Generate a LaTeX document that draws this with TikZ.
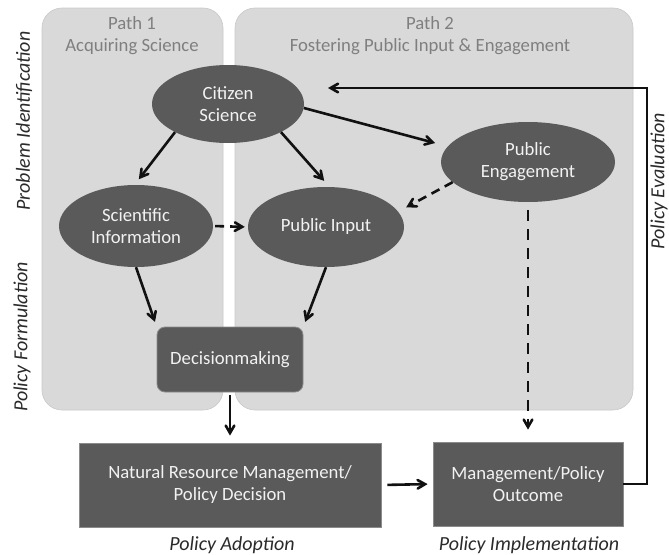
\documentclass[tikz,border=0pt]{standalone}
\usepackage{fontspec}
\setmainfont{Carlito}
\usepackage{tikz}
\usetikzlibrary{arrows,shapes.geometric}

\definecolor{panelgray}{HTML}{D9D9D9}
\definecolor{nodegray}{HTML}{5A5A5A}
\definecolor{headgray}{HTML}{7F7F7F}
\definecolor{labelgray}{HTML}{2A2A2A}
\definecolor{textwhite}{HTML}{F2F2F2}
\definecolor{arrowblack}{HTML}{111111}

\tikzset{
  panel/.style={fill=panelgray, draw=panelgray!92!black, line width=0.6pt, rounded corners=20pt},
  stage/.style={ellipse, fill=nodegray, text=textwhite, inner sep=0pt, align=center},
  boxnode/.style={rectangle, fill=nodegray, draw=nodegray!70!white, line width=0.8pt, text=textwhite, inner sep=0pt, align=center},
  header/.style={text=headgray, align=center, inner sep=0pt},
  phase/.style={text=labelgray, font=\fontsize{20}{24}\selectfont\itshape, inner sep=0pt},
  flow/.style={->, >=angle 60, line width=2.6pt, draw=arrowblack},
  dashflow/.style={flow, dash pattern=on 9pt off 6pt},
}

\begin{document}
\begin{tikzpicture}[x=1pt, y=-1pt, font=\fontsize{18.7}{22}\selectfont]
		\useasboundingbox (0,0) rectangle (669,554);
		% panels
		\draw[panel] (42,8) rectangle (223,410);
		\draw[panel] (235,8) rectangle (633,410);
		\node[header] (H1) at (132,36) {Path 1\\Acquiring Science};
		\node[header] (H2) at (430,36) {Path 2\\Fostering Public Input \& Engagement};
		%
		\node[stage, minimum width=152pt, minimum height=78pt] (CS) at (228,104) {Citizen\\Science};
		\node[stage, minimum width=154pt, minimum height=82pt] (SI) at (136,226) {Scientific\\Information};
		\node[stage, minimum width=156pt, minimum height=80pt] (PI) at (326,227) {Public Input};
		\node[stage, minimum width=174pt, minimum height=80pt] (PE) at (528,162) {Public\\Engagement};
		\node[boxnode, rounded corners=8pt, minimum width=146pt, minimum height=65pt] (DM) at (230,359.5) {Decisionmaking};
		\node[boxnode, minimum width=302pt, minimum height=84pt] (NRM) at (230,485) {Natural Resource Management/\\Policy Decision};
		\node[boxnode, minimum width=190pt, minimum height=84pt] (MO) at (528,484) {Management/Policy\\Outcome};
		%
		\node[phase, rotate=90] (PId) at (24,121) {Problem Identification};
		\node[phase, rotate=90] (PF) at (22,337) {Policy Formulation};
		\node[phase, rotate=90] (PEv) at (659,181) {Policy Evaluation};
		\node[phase] (PA) at (232,545) {Policy Adoption};
		\node[phase] (PIm) at (529,545) {Policy Implementation};
		%
		\coordinate (FBtop) at (647,88);
		\coordinate (FBend) at (328,88);
		%
		% solid arrows
		\draw[flow,shorten >=7pt] (CS.208) -- (SI.92);
		\draw[flow,shorten >=8pt] (CS.332) -- (PI.85);
		\draw[flow,shorten >=13pt] (CS.357) -- (PE.169);
		\draw[flow,shorten >=5pt] (SI.south) -- (DM.north west);
		\draw[flow,shorten >=5pt] (PI.south) -- (DM.north east);
		\draw[flow,shorten <=3pt,shorten >=7pt] (DM.south) -- (NRM.north);
		\draw[flow,shorten <=6pt,shorten >=5pt] (NRM.east) -- (MO.west);
		% dashed arrows
		\draw[dashflow,shorten <=2pt,shorten >=3pt] (SI.east) -- (PI.west);
		\draw[dashflow,shorten >=9pt] (PE.195) -- (PI.12);
		\draw[dashflow,dash pattern=on 11pt off 8pt,shorten <=8pt,shorten >=12pt] (PE.south) -- (MO.north);
		% feedback loop
		\draw[flow] (MO.east) -| (FBtop) -- (FBend);
	\end{tikzpicture}
\end{document}
